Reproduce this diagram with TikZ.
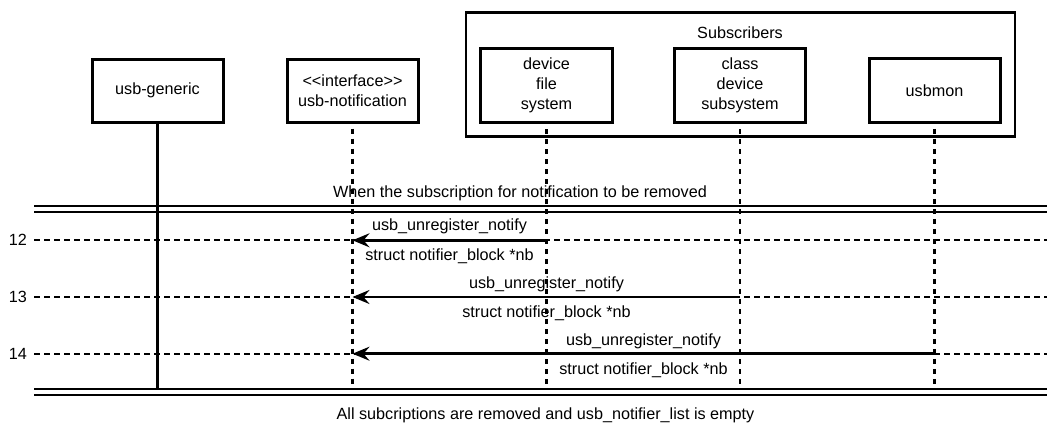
\documentclass[tikz,border=0pt]{standalone}
\usepackage{fontspec}
\setmainfont{Liberation Sans}
\usetikzlibrary{arrows.meta}
\begin{document}
\begin{tikzpicture}[x=1pt,y=-1pt,
  txt/.style={font=\fontsize{16.2}{20}\selectfont, inner sep=0pt, align=center},
  obj/.style={txt, draw, line width=3pt},
  lifesolid/.style={line width=2.5pt},
  lifedash/.style={line width=2.5pt, dash pattern=on 5pt off 5pt},
  rowline/.style={line width=2pt, dash pattern=on 6pt off 4pt},
  dbl/.style={line width=2.3pt},
  msg/.style={line width=2.5pt, -{Stealth[length=17pt,width=14pt,inset=6pt]}},
  lbl/.style={txt}
]
\useasboundingbox (0,0) rectangle (1047,423);

% objects
\node[obj, minimum width=131pt, minimum height=63pt] (ug) at (157.5,90.5) {usb-generic};
\node[obj, minimum width=131pt, minimum height=63pt] (un) at (352.5,90.5) {<\kern0pt<interface>\kern0pt>\\usb-notification};
\node[draw, line width=2.5pt, minimum width=549pt, minimum height=124pt, inner sep=0pt] (sub) at (740.5,74.5) {};
\node[lbl] (subt) at (740,33) {Subscribers};
\node[obj, minimum width=131.5pt, minimum height=74.5pt] (dfs) at (546.5,85.5) {device\\file\\system};
\node[obj, minimum width=131.5pt, minimum height=74.5pt] (cds) at (740,85.5) {class\\device\\subsystem};
\node[obj, minimum width=131pt, minimum height=63.5pt] (mon) at (934.5,90.5) {usbmon};

% frame coordinates
\coordinate (tl1) at (34,206);
\coordinate (tr1) at (1047,206);
\coordinate (tl2) at (34,212.3);
\coordinate (tr2) at (1047,212.3);
\coordinate (bl1) at (34,389);
\coordinate (br1) at (1047,389);
\coordinate (bl2) at (34,395);
\coordinate (br2) at (1047,395);
\coordinate (r12) at (34,240.3);
\coordinate (e12) at (1047,240.3);
\coordinate (r13) at (34,297);
\coordinate (e13) at (1047,297);
\coordinate (r14) at (34,353.7);
\coordinate (e14) at (1047,353.7);

% row lines
\draw[rowline] (r12) -- (e12);
\draw[rowline] (r13) -- (e13);
\draw[rowline] (r14) -- (e14);
\node[lbl, anchor=east] (n12) at (27,240.3) {12};
\node[lbl, anchor=east] (n13) at (27,297) {13};
\node[lbl, anchor=east] (n14) at (27,353.7) {14};

% lifelines
\draw[lifesolid] (ug.south) -- (ug.south |- bl1);
\draw[lifedash] ([yshift=-5pt]un.south) -- (un.south |- bl1);
\draw[lifedash] ([yshift=-5pt]dfs.south) -- (dfs.south |- bl1);
\draw[lifedash] ([yshift=-5pt]cds.south) -- (cds.south |- bl1);
\draw[lifedash] ([yshift=-5pt]mon.south) -- (mon.south |- bl1);

% double lines
\draw[dbl] (tl1) -- (tr1);
\draw[dbl] (tl2) -- (tr2);
\draw[dbl] (bl1) -- (br1);
\draw[dbl] (bl2) -- (br2);

% fragment texts
\node[lbl] (top) at (520,193.3) {When the subscription for notification to be removed};
\node[lbl] (bot) at (545.5,415) {All subcriptions are removed and usb\_notifier\_list is empty};

% messages
\draw[msg] (dfs.south |- r12) -- (un.south |- r12);
\draw[msg] (cds.south |- r13) -- (un.south |- r13);
\draw[msg] (mon.south |- r14) -- (un.south |- r14);

\node[lbl] (m12a) at (449.5,226.7) {usb\_unregister\_notify};
\node[lbl] (m12b) at (449.5,256) {struct notifier\_block *nb};
\node[lbl] (m13a) at (546.5,284) {usb\_unregister\_notify};
\node[lbl] (m13b) at (546.5,313) {struct notifier\_block *nb};
\node[lbl] (m14a) at (643.5,341) {usb\_unregister\_notify};
\node[lbl] (m14b) at (643.5,370) {struct notifier\_block *nb};
\end{tikzpicture}
\end{document}
